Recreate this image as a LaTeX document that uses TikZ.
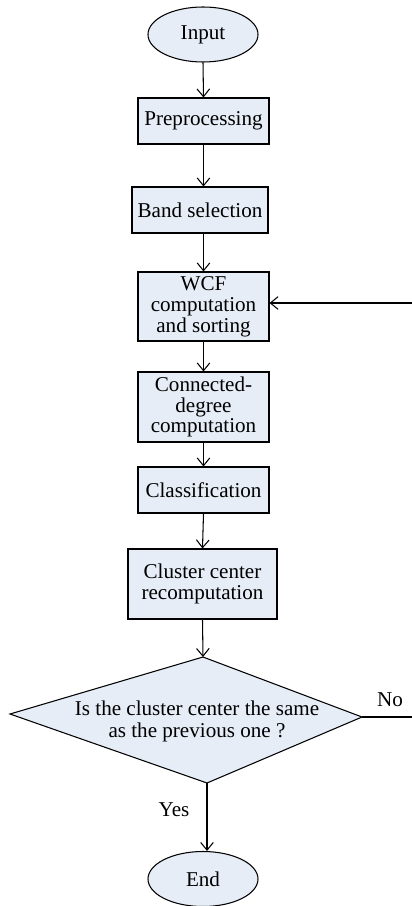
\documentclass[tikz,border=0pt]{standalone}
\usepackage{fontspec}
\setmainfont{Liberation Serif}
\usetikzlibrary{shapes,arrows.meta}

\definecolor{boxfill}{RGB}{230,237,246}

\begin{document}
\begin{tikzpicture}[x=0.025cm,y=-0.025cm,align=center,
    font=\fontsize{15}{14.8}\selectfont,
    >={Straight Barb[length=5.5pt,width=9pt]},
    line width=0.75pt,
    stepbox/.style={rectangle,draw=black,fill=boxfill,inner sep=0pt},
    term/.style={ellipse,draw=black,fill=boxfill,minimum width=2.75cm,minimum height=1.375cm,inner sep=0pt}]
  \useasboundingbox (0,0) rectangle (412,906);

  %start and end
  \node[term] (input) at (203,34.5) {Input};
  \node[term] (end) at (203,879) {End};

  %processing steps
  \node[stepbox,minimum width=3.275cm,minimum height=1.15cm] (pre) at (203.5,121) {Preprocessing};
  \node[stepbox,minimum width=3.4cm,minimum height=1.15cm] (band) at (200,210) {Band selection};
  \node[stepbox,minimum width=3.275cm,minimum height=1.725cm] (wcf) at (203.5,306.5) {WCF\\computation\\and sorting};
  \node[stepbox,minimum width=3.275cm,minimum height=1.75cm] (conn) at (203.5,407) {Connected-\\degree\\computation};
  \node[stepbox,minimum width=3.275cm,minimum height=1.15cm] (class) at (203.5,490) {Classification};
  \node[stepbox,minimum width=3.725cm,minimum height=1.75cm] (clust) at (202.5,584) {Cluster center\\recomputation};

  %decision
  \coordinate (dleft) at (10,714);
  \coordinate (dtop) at (203,657);
  \coordinate (dright) at (362,717);
  \coordinate (dbot) at (207,783);
  \draw[fill=boxfill] (dleft) -- (dtop) -- (dright) -- (dbot) -- cycle;
  \node[font=\fontsize{15}{15.6}\selectfont] (dtext) at (197,721) {Is the cluster center the same\\as the previous one ?};
  \node (no) at (390,700) {No};
  \node (yes) at (174,810) {Yes};

  %flow
  \draw[->] (input.south) -- (pre.north);
  \draw[->] (pre.south) -- (pre.south |- band.north);
  \draw[->] (wcf.north |- band.south) -- (wcf.north);
  \draw[->] (wcf.south) -- (conn.north);
  \draw[->] (conn.south) -- (class.north);
  \draw[->] (class.south) -- (clust.north);
  \draw[->] (clust.south) -- (dtop);
  \draw[->] (dbot) -- (dbot |- end.north);

  %loop back (runs off the right edge)
  \coordinate (loop) at (420,303);
  \draw[->] (dright) -- (dright -| loop) -- (loop) -- (loop -| wcf.east);
\end{tikzpicture}
\end{document}
